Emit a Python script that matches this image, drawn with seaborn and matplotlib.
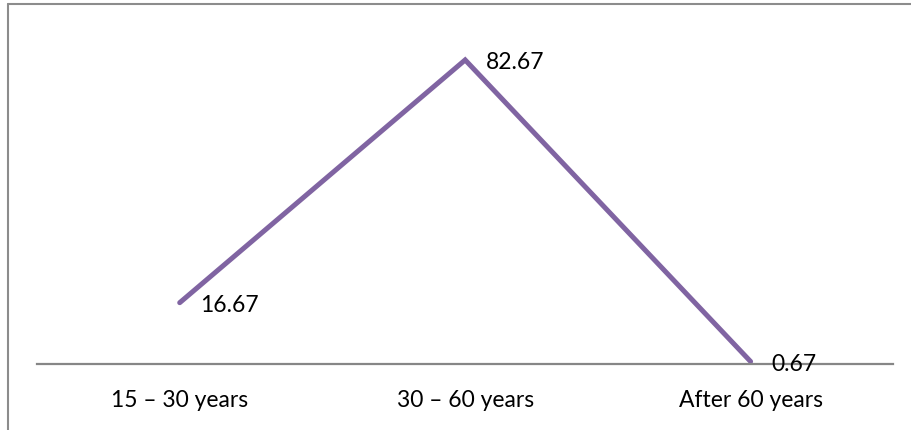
import matplotlib
matplotlib.use("Agg")
import matplotlib.pyplot as plt
from matplotlib.lines import Line2D
import seaborn as sns
import pandas as pd

# Age groups and their share (%)
age_groups = ["15 \u2013 30 years", "30 \u2013 60 years", "After 60 years"]
shares = [16.67, 82.67, 0.67]

df = pd.DataFrame({"age": age_groups, "share": shares})

sns.set_theme(style="white")
plt.rcParams["font.family"] = ["Lato", "DejaVu Sans"]

fig = plt.figure(figsize=(9.11, 4.30), dpi=100)
ax = fig.add_axes([0.0406, 0.1535, 0.940, 0.7698])

line_color = "#8064a2"
sns.lineplot(data=df, x="age", y="share", ax=ax, color=line_color,
             linewidth=3.6, sort=False, solid_capstyle="round",
             solid_joinstyle="miter")

for i, v in enumerate(shares):
    ax.annotate(f"{v:.2f}", xy=(i, v), xytext=(15, -2),
                textcoords="offset points", ha="left", va="center",
                fontsize=16.5, color="black")

ax.set_xlim(-0.5, 2.5)
ax.set_ylim(0, 90)
ax.set_xlabel("")
ax.set_ylabel("")
ax.set_yticks([])
ax.set_xticks(range(len(age_groups)))
ax.set_xticklabels(age_groups, fontsize=16.5, color="black")
ax.tick_params(axis="x", length=0, pad=19)

for side in ["top", "right", "left"]:
    ax.spines[side].set_visible(False)
ax.spines["bottom"].set_color("#868686")
ax.spines["bottom"].set_linewidth(1.6)
ax.patch.set_alpha(0)

# Chart frame (top and left edges)
frame_color = "#8c8c8c"
fig.add_artist(Line2D([8 / 911, 1.0], [1 - 4 / 430, 1 - 4 / 430],
                      transform=fig.transFigure, color=frame_color, linewidth=1.5))
fig.add_artist(Line2D([8 / 911, 8 / 911], [0.0, 1 - 4 / 430],
                      transform=fig.transFigure, color=frame_color, linewidth=1.5))

fig.savefig("out.png", dpi=100)
